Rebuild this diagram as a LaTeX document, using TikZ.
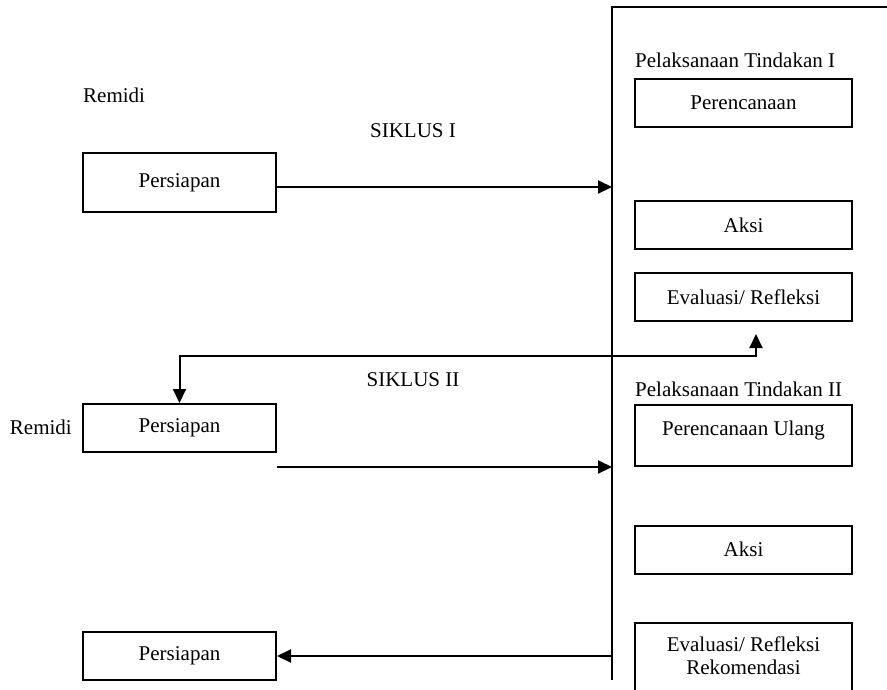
\documentclass[tikz,border=0pt]{standalone}
\usepackage{fontspec}
\setmainfont{Liberation Serif}
\usetikzlibrary{arrows.meta, positioning}

\begin{document}
\begin{tikzpicture}[x=1pt, y=-1pt,
    font=\fontsize{21}{23}\selectfont,
    every node/.style={inner sep=0pt},
    >={Triangle[length=14pt,width=13pt]},
    line/.style={line width=2pt},
    stage/.style={draw, line width=2pt, minimum width=193pt, minimum height=48pt},
    act/.style={stage, minimum width=217pt}]
    \clip (0,0) rectangle (887,689);

    \coordinate (fr) at (887,7);
    \coordinate (ft) at (612,7);
    \coordinate (fb) at (612,680);
    \draw[line] (fr) -- (ft) -- (fb);

    \node[anchor=west] (r1) at (83,95) {Remidi};
    \node[stage, minimum height=59pt] (p1) at (179.5,182.5) {Persiapan};
    \node (s1) at (413,131) {SIKLUS I};

    \node (s2) at (413,380) {SIKLUS II};
    \node[anchor=east] (r2) at (72,427) {Remidi};
    \node[stage] (p2) at (179.5,428) {Persiapan};

    \node[stage] (p3) at (179.5,656) {Persiapan};

    \node[anchor=west] (t1) at (635,60) {Pelaksanaan Tindakan I};
    \node[act] (a1) at (743.5,103) {Perencanaan};
    \node[act] (a2) at (743.5,225) {Aksi};
    \node[act] (a3) at (743.5,297) {Evaluasi/ Refleksi};

    \node[anchor=west] (t2) at (635,389) {Pelaksanaan Tindakan II};
    \node[act, anchor=north, text height=30pt, text depth=31pt] (b1) at (743.5,404) {Perencanaan Ulang};
    \node[act] (b2) at (743.5,549.5) {Aksi};
    \node[act, anchor=north, align=center, inner ysep=14pt] (b3) at (743.5,622)
        {Evaluasi/ Refleksi\\Rekomendasi\rule[-20pt]{0pt}{20pt}};

    \draw[line, ->] ([yshift=-4.5pt]p1.east) coordinate (e1) -- (e1 -| ft);
    \draw[line, ->] ([yshift=-14pt]p2.south east) coordinate (e2) -- (e2 -| ft);
    \draw[line, <->] ([xshift=12.5pt,yshift=-12pt]a3.south) -- ++(0,22) -| (p2.north);
    \draw[line, ->] (p3.east -| ft) -- (p3.east);
\end{tikzpicture}
\end{document}
